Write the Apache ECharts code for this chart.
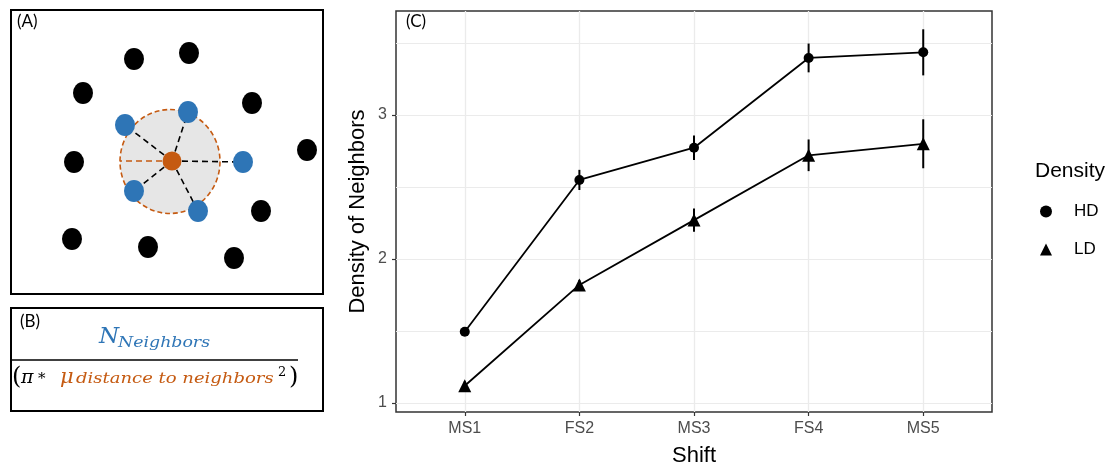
<!DOCTYPE html>
<html><head><meta charset="utf-8">
<script src="https://cdn.jsdelivr.net/npm/echarts@6/dist/echarts.min.js"></script>
<style>html,body{margin:0;padding:0;background:#fff}#c{width:1110px;height:467px}</style>
</head><body><div id="c"></div>
<script>
// Panel C data
const shifts = ['MS1', 'FS2', 'MS3', 'FS4', 'MS5'];
const hdMean = [1.495, 2.549, 2.773, 3.396, 3.435];
const hdErr  = [0.03, 0.07, 0.085, 0.10, 0.16];
const ldMean = [1.12, 1.82, 2.27, 2.72, 2.80];
const ldErr  = [0.03, 0.035, 0.08, 0.11, 0.17];
const yTicks = [1, 2, 3];
const yGrid  = [1, 1.5, 2, 2.5, 3, 3.5];

// Panel A diagram data (diagram units)
const otherPts = [[123,49],[178,43],[72,83],[241,93],[296,140],[63,152],[250,201],[61,229],[137,237],[223,248]];
const neighborPts = [[114,115],[177,102],[232,152],[123,181],[187,201]];
const focalPt = [161,151];
const radiusEnd = [109,151];
const circleCenter = [159,151.5];

const chart = echarts.init(document.getElementById('c'), null, {renderer:'canvas'});
const xIdx = shifts.map((s,i)=>i);
const errData = (m,e) => m.map((v,i)=>[i, v-e[i], v+e[i]]);
const errRender = (params, api) => {
  const a = api.coord([api.value(0), api.value(1)]);
  const b = api.coord([api.value(0), api.value(2)]);
  return {type:'line', shape:{x1:a[0],y1:a[1],x2:b[0],y2:b[1]}, style:{stroke:'#000', lineWidth:2}};
};
const YMIN = 0.9375, YMAX = 3.722;
const sans = 'Liberation Sans';
const BLUE = '#2e75b6', ORANGE = '#c55a11';
const txt = (x, y, text, font, fill, extra) => Object.assign({type:'text', x:x, y:y,
  style:{x:0, y:0, text:text, font:font, fill:fill||'#000', align:'left', verticalAlign:'top'}}, extra||{});

const option = {
  animation:false,
  grid:[
    {left:396, top:11, width:596, height:401, show:true, borderColor:'#333', borderWidth:1.5, backgroundColor:'#fff', outerBoundsMode:'none', containLabel:false},
    {left:11, top:10, width:312, height:284, show:true, borderColor:'#000', borderWidth:2, backgroundColor:'#fff', outerBoundsMode:'none', containLabel:false}
  ],
  xAxis:[
    {type:'value', gridIndex:0, min:-0.6, max:4.6, name:'Shift', nameLocation:'middle', nameGap:33,
     nameTextStyle:{fontFamily:sans, fontSize:22, color:'#000'},
     axisLine:{show:false},
     axisTick:{show:true, length:4, lineStyle:{color:'#333', width:1.2}, customValues:xIdx},
     axisLabel:{customValues:xIdx, formatter:v=>shifts[Math.round(v)], fontFamily:sans, fontSize:16, color:'#4d4d4d', margin:9},
     splitLine:{show:true, lineStyle:{color:'#ebebeb', width:1.3}}},
    {type:'value', gridIndex:1, min:0, max:312, show:false}
  ],
  yAxis:[
    {type:'value', gridIndex:0, min:YMIN, max:YMAX,
     axisLine:{show:false}, axisTick:{show:false, customValues:yGrid}, axisLabel:{show:false},
     splitLine:{show:true, lineStyle:{color:'#ebebeb', width:1.2}}},
    {type:'value', gridIndex:0, min:YMIN, max:YMAX, position:'left',
     name:'Density of Neighbors', nameLocation:'middle', nameGap:27, nameMoveOverlap:false,
     nameTextStyle:{fontFamily:sans, fontSize:22, color:'#000'},
     axisLine:{show:false},
     axisTick:{show:true, length:4, lineStyle:{color:'#333', width:1.2}, customValues:yTicks},
     axisLabel:{customValues:yTicks, fontFamily:sans, fontSize:16, color:'#4d4d4d', margin:9},
     splitLine:{show:false}},
    {type:'value', gridIndex:1, min:0, max:284, inverse:true, show:false}
  ],
  legend:{
    orient:'vertical', left:1040, top:203, itemWidth:12, itemHeight:12, itemGap:21, padding:0,
    textStyle:{fontFamily:sans, fontSize:17, color:'#000', padding:[0,0,0,17]},
    data:[{name:'HD', icon:'circle'}, {name:'LD', icon:'triangle'}]
  },
  series:[
    {type:'custom', xAxisIndex:0, yAxisIndex:0, renderItem:errRender, data:errData(hdMean,hdErr), z:3, silent:true},
    {type:'custom', xAxisIndex:0, yAxisIndex:0, renderItem:errRender, data:errData(ldMean,ldErr), z:3, silent:true},
    {name:'HD', type:'line', xAxisIndex:0, yAxisIndex:0, data:hdMean.map((v,i)=>[i,v]),
     symbol:'circle', symbolSize:10, itemStyle:{color:'#000'}, lineStyle:{color:'#000', width:1.8}, z:4},
    {name:'LD', type:'line', xAxisIndex:0, yAxisIndex:0, data:ldMean.map((v,i)=>[i,v]),
     symbol:'triangle', symbolSize:13, itemStyle:{color:'#000'}, lineStyle:{color:'#000', width:1.8}, z:4},
    // Panel A
    {type:'scatter', xAxisIndex:1, yAxisIndex:2, data:[circleCenter], symbol:'circle', symbolSize:[100,104],
     itemStyle:{color:'#e6e6e6', opacity:1, borderColor:ORANGE, borderWidth:1.6, borderType:[5,3]}, z:1, silent:true},
    {type:'lines', coordinateSystem:'cartesian2d', xAxisIndex:1, yAxisIndex:2,
     data:neighborPts.map(p=>({coords:[focalPt,p]})), lineStyle:{color:'#000', width:1.6, opacity:1, type:[6,4]}, z:2, silent:true},
    {type:'lines', coordinateSystem:'cartesian2d', xAxisIndex:1, yAxisIndex:2,
     data:[{coords:[focalPt,radiusEnd]}], lineStyle:{color:ORANGE, width:1.6, opacity:1, type:[6,4]}, z:2, silent:true},
    {type:'scatter', xAxisIndex:1, yAxisIndex:2, data:otherPts, symbol:'circle', symbolSize:[20,22], itemStyle:{color:'#000', opacity:1}, z:3, silent:true},
    {type:'scatter', xAxisIndex:1, yAxisIndex:2, data:neighborPts, symbol:'circle', symbolSize:[20,22], itemStyle:{color:BLUE, opacity:1}, z:3, silent:true},
    {type:'scatter', xAxisIndex:1, yAxisIndex:2, data:[focalPt], symbol:'circle', symbolSize:19, itemStyle:{color:ORANGE, opacity:1}, z:3, silent:true}
  ],
  graphic:[
    txt(406, 13, '(C)', '17px Lato', '#000', {z:10}),
    txt(17, 13, '(A)', '17px Lato', '#000', {z:10}),
    txt(1035, 161, 'Density', '21px "Liberation Sans"'),
    {type:'rect', shape:{x:11, y:308, width:312, height:103}, style:{fill:'none', stroke:'#000', lineWidth:2}},
    txt(20, 313, '(B)', '17px Lato'),
    {type:'line', shape:{x1:11, y1:360, x2:298, y2:360}, style:{stroke:'#000', lineWidth:1.5}},
    txt(99, 326, 'N', 'italic 23px "DejaVu Serif"', BLUE),
    txt(118, 336, 'Neighbors', 'italic 14px "DejaVu Serif"', BLUE, {scaleX:1.24}),
    txt(12, 366, '(', '24px "DejaVu Serif"'),
    txt(21, 369, 'π', 'italic 19px "DejaVu Serif"'),
    txt(38, 372, '*', '15px "DejaVu Serif"'),
    txt(60, 367, 'μ', 'italic 21px "DejaVu Serif"', ORANGE),
    txt(76, 372, 'distance to neighbors', 'italic 15px "DejaVu Serif"', ORANGE, {scaleX:1.2}),
    txt(278, 366, '2', '13px "DejaVu Serif"'),
    txt(289, 366, ')', '24px "DejaVu Serif"')
  ]
};
chart.setOption(option);
</script></body></html>
